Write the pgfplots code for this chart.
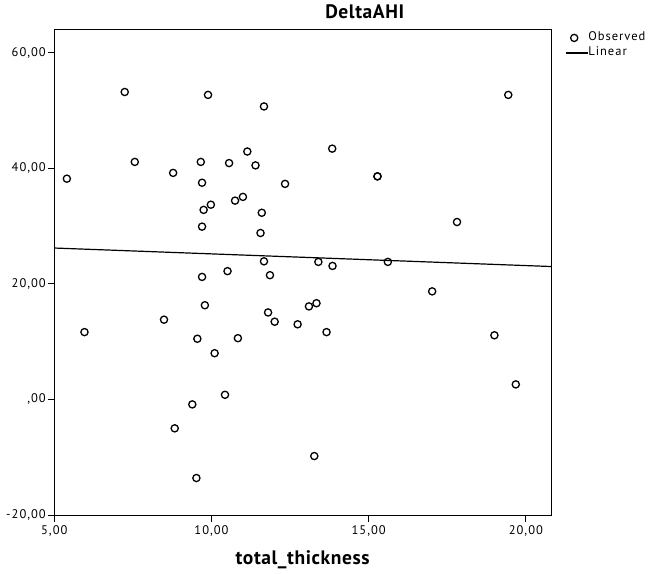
\documentclass[border=0pt]{standalone}
\usepackage{fontspec}
\setmainfont{PT Sans}[LetterSpace=8]
\newfontfamily\headfont{PT Sans}[LetterSpace=3]
\usepackage{pgfplots}
\pgfplotsset{compat=1.18}
\usepackage{pgfplotstable}

\pgfplotsset{
    obsleg/.style={legend image code/.code={\draw[##1] plot coordinates {(8.5pt,0pt)};}},
    linleg/.style={legend image code/.code={\draw[##1] (0pt,0pt) -- (22pt,0pt);}},
}

% total_thickness vs DeltaAHI
\pgfplotstableread{
x y
5.40 38.2
5.96 11.65
7.24 53.2
7.56 41.1
8.49 13.8
8.78 39.2
8.83 -5.0
9.39 -0.86
9.52 -13.6
9.55 10.5
9.66 41.1
9.70 37.5
9.70 29.9
9.70 21.2
9.75 32.8
9.79 16.3
9.89 52.7
9.98 33.7
10.10 8.0
10.43 0.8
10.51 22.2
10.56 40.9
10.75 34.4
10.84 10.6
11.00 35.05
11.14 42.9
11.40 40.5
11.56 28.8
11.60 32.3
11.67 50.7
11.67 23.9
11.80 15.05
11.86 21.5
12.01 13.45
12.34 37.3
12.74 13.0
13.10 16.1
13.27 -9.8
13.34 16.65
13.40 23.8
13.66 11.65
13.84 43.4
13.85 23.1
15.28 38.6
15.28 38.6
15.61 23.8
17.02 18.7
17.81 30.7
19.00 11.1
19.44 52.7
19.68 2.6
}\observed

\begin{document}
\begin{tikzpicture}
\begin{axis}[
    name=ax,
    scale only axis,
    width=496.7pt, height=485.7pt,
    xmin=5, xmax=20.8, ymin=-20, ymax=64.05,
    axis line style={line width=1pt},
    xtick={5,10,15,20},
    xticklabels={{5,00},{10,00},{15,00},{20,00}},
    ytick={-20,0,20,40,60},
    yticklabels={{-20,00},{,00},{20,00},{40,00},{60,00}},
    tick pos=left, tick align=outside,
    major tick length=6.5pt,
    tick style={line width=1pt, black},
    tick label style={font=\fontsize{12.5}{14}\selectfont},
    xticklabel style={yshift=-0.5pt},
    yticklabel style={xshift=1.5pt},
    xlabel={\headfont\bfseries total\_thickness},
    xlabel style={font=\fontsize{19.5}{21}\selectfont, at={(0.5,0)}, anchor=base, yshift=-49pt},
    title={\headfont\bfseries DeltaAHI},
    title style={font=\fontsize{19.5}{21}\selectfont, at={(0.625,1)}, anchor=base, yshift=4.8pt},
    legend style={at={(1.028,0.995)}, anchor=north west, draw=none, fill=none,
        font=\fontsize{12.5}{15}\selectfont, inner sep=0pt,
        nodes={inner sep=0pt, text height=9pt, text depth=3pt}, row sep=3pt,
        column sep=0pt},
    legend cell align=left,
]
\addplot[only marks, mark=o, mark size=3.6pt, mark options={line width=1.3pt, black}, obsleg]
    table[x=x, y=y] {\observed};
\addlegendentry{Observed}
\addplot[black, line width=1.2pt, linleg]
    coordinates {(5,26.2) (20.8,23.0)};
\addlegendentry{Linear}
\end{axis}
\pgfresetboundingbox
\path[use as bounding box] ([shift={(-54.3pt,-58pt)}]ax.south west) rectangle ([shift={(99pt,29.3pt)}]ax.north east);
\end{tikzpicture}
\end{document}
